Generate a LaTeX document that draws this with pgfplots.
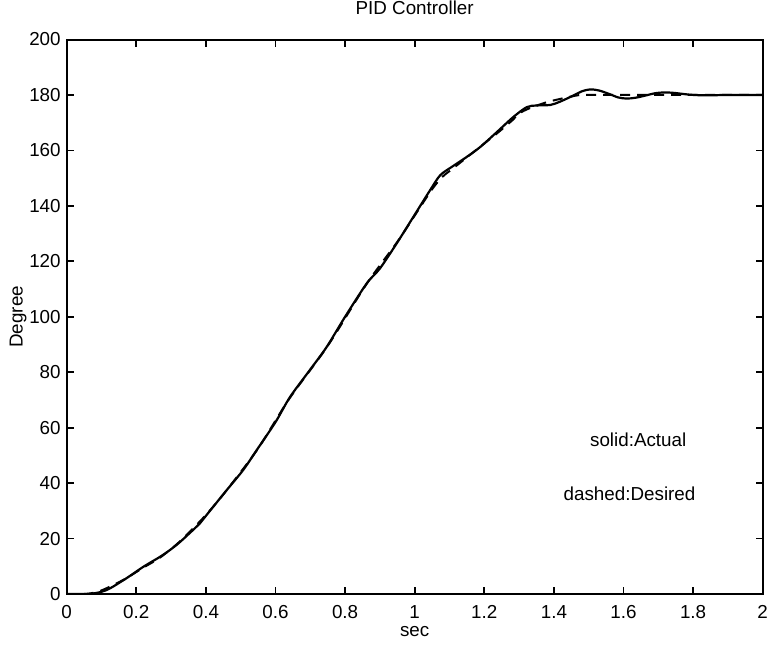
\documentclass[border=0pt]{standalone}
\usepackage{fontspec}
\setmainfont{Liberation Sans}
\usepackage{pgfplots}
\pgfplotsset{compat=1.18}
\begin{document}
\begin{tikzpicture}
\begin{axis}[
  scale only axis,
  width=348pt, height=277.25pt,
  xmin=0, xmax=2, ymin=0, ymax=200,
  xtick={0,0.2,...,2.01}, ytick={0,20,...,200},
  xticklabels={0,0.2,0.4,0.6,0.8,1,1.2,1.4,1.6,1.8,2},
  tick align=inside,
  major tick length=3.5pt,
  axis line style={line width=1pt},
  every tick/.style={line width=0.9pt, black},
  /pgf/number format/assume math mode=true,
  tick label style={font=\fontsize{9.4}{10}\selectfont},
  xticklabel style={yshift=-2.3pt},
  yticklabel style={xshift=0.5pt},
  title={PID Controller},
  title style={at={(axis description cs:0.5,1.0352)}, anchor=center, font=\fontsize{9.4}{10}\selectfont},
  xlabel={sec},
  xlabel style={at={(axis description cs:0.5,-0.0678)}, anchor=center, font=\fontsize{9.4}{10}\selectfont},
  ylabel={Degree},
  ylabel style={at={(axis description cs:-0.0698,0.5)}, anchor=center, rotate=0, font=\fontsize{9.4}{10}\selectfont},
  clip=true,
]
\coordinate (SW) at (rel axis cs:0,0);
\coordinate (NE) at (rel axis cs:1,1);
% desired (dashed)
\addplot[black, line width=1pt, dash pattern=on 5pt off 3.5pt, smooth] coordinates {
(0,0) (0.05,0) (0.08,0.5) (0.10,1.3) (0.13,3.0) (0.17,5.6) (0.22,9.5) (0.27,13.3)
(0.33,19.5) (0.40,28.5) (0.46,37.5) (0.55,52.5) (0.64,70.5) (0.75,89.5) (0.86,111.5)
(0.95,127) (1.00,136.5) (1.05,146) (1.08,150.5) (1.11,153.5) (1.15,157.5) (1.19,161.5)
(1.24,166.5) (1.28,170.8) (1.30,173.3) (1.33,175.2) (1.38,177.4) (1.43,178.9) (1.47,179.9)
(1.50,180) (1.6,180) (1.8,180) (2.0,180)
};
% actual (solid)
\addplot[black, line width=1.1pt, smooth] coordinates {
(0,0) (0.06,0) (0.072,0.1) (0.10,0.8) (0.124,2.0) (0.172,5.7) (0.22,9.8) (0.268,13.4)
(0.297,15.9) (0.326,18.8) (0.383,25.5) (0.402,28.5) (0.46,37.5) (0.507,44.7) (0.546,51.9)
(0.60,62) (0.642,71.1) (0.70,81) (0.747,89.1) (0.80,100) (0.862,112.0) (0.90,117.4)
(0.948,126.4) (0.996,136.0) (1.044,145.6) (1.073,151.0) (1.106,154.0) (1.149,157.6)
(1.188,161.2) (1.236,166.6) (1.283,172.0) (1.322,175.6) (1.35,176.2) (1.39,176.4)
(1.418,177.6) (1.456,179.8) (1.48,181.3) (1.504,182.0) (1.53,181.6) (1.56,180.3)
(1.585,179.1) (1.609,178.7) (1.635,179.0) (1.667,179.9) (1.69,180.6) (1.714,180.9)
(1.74,180.8) (1.762,180.5) (1.79,180.1) (1.82,179.9) (1.86,179.9) (1.9,180) (2.0,180)
};
\node[anchor=west, font=\fontsize{9.4}{10}\selectfont, inner sep=0pt] at (axis cs:1.503,55.8) {solid:Actual};
\node[anchor=west, font=\fontsize{9.4}{10}\selectfont, inner sep=0pt] at (axis cs:1.427,36) {dashed:Desired};
\end{axis}
\pgfresetboundingbox
\path[use as bounding box] ([shift={(-33.35pt,-25pt)}]SW) rectangle ([shift={(2.15pt,19.75pt)}]NE);
\end{tikzpicture}
\end{document}
